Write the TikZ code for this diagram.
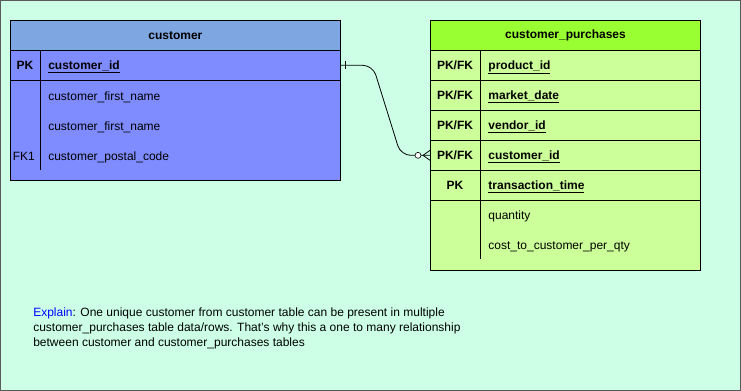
\documentclass[tikz,border=0pt]{standalone}
\usepackage{fontspec}
\setmainfont{Liberation Sans}
\definecolor{mint}{HTML}{CCFFE6}
\definecolor{bluehead}{HTML}{7EA6E0}
\definecolor{bluebody}{HTML}{7F8CFF}
\definecolor{greenhead}{HTML}{99FF33}
\definecolor{greenbody}{HTML}{CCFF99}
\tikzset{
  {cell/.style} = {draw, inner sep=0, anchor=north west,
                   font=\fontsize{12}{15}\selectfont},
  {tablebox/.style} = {cell, fill=#1},
  {tablehead/.style} = {cell, fill=#1, minimum height=30pt,
                   font=\fontsize{12}{15}\selectfont\bfseries},
  {keyrow/.style} = {cell, fill=#1, minimum height=30pt},
  {keytext/.style} = {inner sep=0, text height=9pt, text depth=0pt,
                   font=\fontsize{12}{15}\selectfont\bfseries},
  {fieldtext/.style} = {inner sep=0, anchor=west, text height=9pt,
                   text depth=0pt, font=\fontsize{12}{15}\selectfont},
  {explain/.style} = {inner sep=0, anchor=north west, align=left,
                   font=\fontsize{12}{15}\selectfont},
}
\begin{document}
\begin{tikzpicture}[x=1pt,y=-1pt,line width=.8pt]
\path[fill=mint,draw=black!65] (0.5,0.5) rectangle (740.5,390.5);

% customer
\node[tablebox=bluebody,minimum width=330pt,minimum height=160pt] (cust) at (10,20) {};
\node[tablehead=bluehead,minimum width=330pt] (cust-head) at (10,20) {customer};
\node[keyrow=bluebody,minimum width=330pt] (cust-id) at (10,50) {};
\node[keytext] (cust-id-k) at (25,65) {PK};
\node[fieldtext,font=\fontsize{12}{15}\selectfont\bfseries] (cust-id-f) at (48,65) {\underline{customer\_id}};
\draw (40,50) -- (40,80);
\draw (40,80) -- (40,170);
\node[fieldtext] (cust-first) at (48,96) {customer\_first\_name};
\node[fieldtext] (cust-last) at (48,126) {customer\_first\_name};
\node[keytext,font=\fontsize{12}{15}\selectfont] (cust-zip-k) at (24,156) {FK1};
\node[fieldtext] (cust-zip) at (48,156) {customer\_postal\_code};

% customer_purchases
\node[tablebox=greenbody,minimum width=270pt,minimum height=250pt] (buy) at (430,20) {};
\node[tablehead=greenhead,minimum width=270pt] (buy-head) at (430,20) {customer\_purchases};
\node[keyrow=greenbody,minimum width=270pt] (buy-pid) at (430,50) {};
\node[keyrow=greenbody,minimum width=270pt] (buy-date) at (430,80) {};
\node[keyrow=greenbody,minimum width=270pt] (buy-vid) at (430,110) {};
\node[keyrow=greenbody,minimum width=270pt] (buy-cid) at (430,140) {};
\node[keyrow=greenbody,minimum width=270pt] (buy-time) at (430,170) {};
\draw (480,50) -- (480,200);
\draw (480,200) -- (480,259);
\node[keytext] (buy-pid-k) at (455,65) {PK/FK};
\node[keytext] (buy-date-k) at (455,95) {PK/FK};
\node[keytext] (buy-vid-k) at (455,125) {PK/FK};
\node[keytext] (buy-cid-k) at (455,155) {PK/FK};
\node[keytext] (buy-time-k) at (455,185) {PK};
\node[fieldtext,font=\fontsize{12}{15}\selectfont\bfseries] (buy-pid-f) at (488,65) {\underline{product\_id}};
\node[fieldtext,font=\fontsize{12}{15}\selectfont\bfseries] (buy-date-f) at (488,95) {\underline{market\_date}};
\node[fieldtext,font=\fontsize{12}{15}\selectfont\bfseries] (buy-vid-f) at (488,125) {\underline{vendor\_id}};
\node[fieldtext,font=\fontsize{12}{15}\selectfont\bfseries] (buy-cid-f) at (488,155) {\underline{customer\_id}};
\node[fieldtext,font=\fontsize{12}{15}\selectfont\bfseries] (buy-time-f) at (488,185) {\underline{transaction\_time}};
\node[fieldtext] (buy-qty) at (488,215) {quantity};
\node[fieldtext] (buy-cost) at (488,245) {cost\_to\_customer\_per\_qty};

% one to many
\draw[rounded corners=10pt] (cust-id.east) -- ++(32,0) -- ++(28,90) -- (buy-cid.west);
\draw (cust-id.east) ++(5,-4) -- ++(0,8);
\draw (buy-cid.west) ++(0,-5) -- ++(-7,5) -- ++(7,5);
\draw[fill=white,line width=.6pt] (buy-cid.west) ++(-12,0) circle (3pt);

\node[explain] (note) at (33,307) {\textcolor{blue}{Explain}: One unique customer from customer table can be present in multiple\\
customer\_purchases table data/rows. That's why this a one to many relationship\\
between customer and customer\_purchases tables};
\end{tikzpicture}
\end{document}
